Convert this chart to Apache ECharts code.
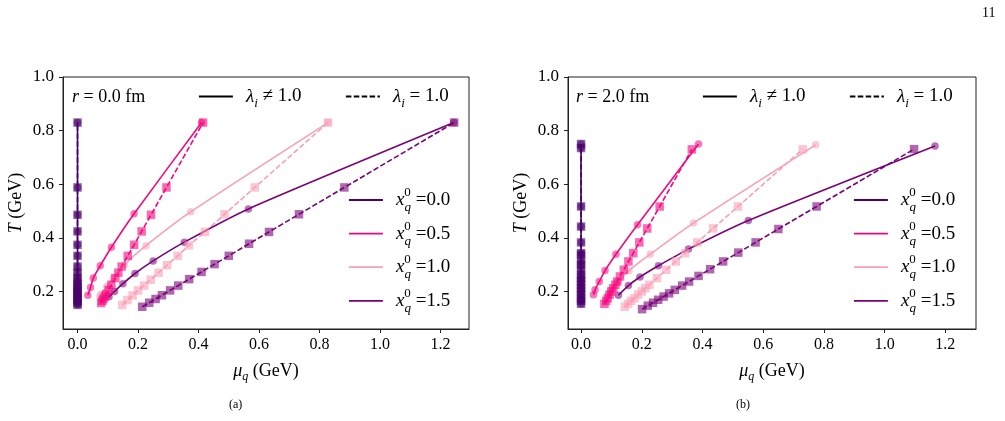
<!DOCTYPE html>
<html>
<head>
<meta charset="utf-8">
<script src="https://cdn.jsdelivr.net/npm/echarts@6/dist/echarts.min.js"></script>
<style>html,body{margin:0;padding:0;background:#fff}#chart{width:1005px;height:421px}</style>
</head>
<body>
<div id="chart"></div>
<script>
var chartDom = document.getElementById('chart');
var myChart = echarts.init(chartDom);
var option;

// ---- panel (a): r = 0.0 fm ----
// x0 = 0.0 (column at mu = 0)
var a_T00 = [0.15, 0.157, 0.165, 0.172, 0.181, 0.19, 0.196, 0.206, 0.215, 0.225, 0.237, 0.25, 0.27, 0.293, 0.333, 0.374, 0.424, 0.486, 0.588, 0.83];
var a_mu00 = [0, 0, 0, 0, 0, 0, 0, 0, 0, 0, 0, 0, 0, 0, 0, 0, 0, 0, 0, 0];
// lambda != 1 (solid, circles)
var a_T05s = [0.186, 0.215, 0.25, 0.296, 0.365, 0.49, 0.83];
var a_mu05s = [0.034, 0.043, 0.052, 0.075, 0.112, 0.187, 0.41];
var a_T10s = [0.181, 0.19, 0.219, 0.25, 0.30, 0.371, 0.497, 0.83];
var a_mu10s = [0.074, 0.077, 0.097, 0.118, 0.155, 0.226, 0.374, 0.828];
var a_T15s = [0.18, 0.2, 0.229, 0.267, 0.314, 0.384, 0.508, 0.83];
var a_mu15s = [0.104, 0.122, 0.15, 0.19, 0.25, 0.353, 0.565, 1.244];
// lambda = 1 (dashed, squares)
var a_T05d = [0.157, 0.165, 0.172, 0.181, 0.19, 0.206, 0.225, 0.25, 0.27, 0.293, 0.333, 0.374, 0.424, 0.486, 0.588, 0.83];
var a_mu05d = [0.078, 0.082, 0.086, 0.09, 0.095, 0.103, 0.112, 0.125, 0.135, 0.146, 0.166, 0.187, 0.212, 0.243, 0.294, 0.415];
var a_T10d = [0.15, 0.168, 0.185, 0.204, 0.222, 0.244, 0.27, 0.298, 0.333, 0.372, 0.422, 0.488, 0.588, 0.83];
var a_mu10d = [0.148, 0.165, 0.182, 0.2, 0.22, 0.242, 0.268, 0.296, 0.331, 0.368, 0.421, 0.486, 0.586, 0.828];
var a_T15d = [0.143, 0.158, 0.172, 0.186, 0.204, 0.222, 0.246, 0.273, 0.302, 0.333, 0.378, 0.422, 0.488, 0.588, 0.83];
var a_mu15d = [0.214, 0.237, 0.258, 0.279, 0.306, 0.333, 0.369, 0.41, 0.453, 0.5, 0.567, 0.633, 0.732, 0.882, 1.245];

// ---- panel (b): r = 2.0 fm ----
var b_T00 = [0.154, 0.165, 0.175, 0.188, 0.2, 0.212, 0.225, 0.237, 0.25, 0.262, 0.281, 0.3, 0.312, 0.337, 0.343, 0.383, 0.442, 0.517, 0.735, 0.75];
var b_mu00 = [0, 0, 0, 0, 0, 0, 0, 0, 0, 0, 0, 0, 0, 0, 0, 0, 0, 0, 0, 0];
var b_T05s = [0.188, 0.206, 0.237, 0.278, 0.339, 0.449, 0.75];
var b_mu05s = [0.041, 0.046, 0.06, 0.079, 0.115, 0.186, 0.387];
var b_T10s = [0.19, 0.206, 0.237, 0.278, 0.339, 0.455, 0.747];
var b_mu10s = [0.09, 0.098, 0.122, 0.158, 0.228, 0.37, 0.773];
var b_T15s = [0.186, 0.222, 0.254, 0.296, 0.358, 0.465, 0.743];
var b_mu15s = [0.123, 0.156, 0.194, 0.255, 0.354, 0.551, 1.166];
var b_T05d = [0.154, 0.165, 0.175, 0.188, 0.2, 0.212, 0.225, 0.237, 0.256, 0.281, 0.312, 0.343, 0.383, 0.435, 0.517, 0.73];
var b_mu05d = [0.077, 0.083, 0.088, 0.094, 0.1, 0.106, 0.113, 0.119, 0.128, 0.141, 0.156, 0.172, 0.192, 0.218, 0.259, 0.365];
var b_T10d = [0.143, 0.154, 0.165, 0.175, 0.188, 0.2, 0.212, 0.225, 0.25, 0.281, 0.312, 0.343, 0.383, 0.435, 0.517, 0.73];
var b_mu10d = [0.144, 0.155, 0.165, 0.176, 0.188, 0.2, 0.212, 0.225, 0.25, 0.281, 0.312, 0.343, 0.383, 0.435, 0.517, 0.73];
var b_T15d = [0.134, 0.147, 0.158, 0.169, 0.181, 0.193, 0.206, 0.222, 0.237, 0.258, 0.283, 0.312, 0.345, 0.383, 0.433, 0.517, 0.731];
var b_mu15d = [0.201, 0.22, 0.237, 0.254, 0.272, 0.29, 0.309, 0.333, 0.356, 0.387, 0.425, 0.468, 0.518, 0.575, 0.65, 0.776, 1.097];

var x0Labels = ['0.0', '0.5', '1.0', '1.5'];
var radii = ['0.0', '2.0'];
var xTicks = [0, 0.2, 0.4, 0.6, 0.8, 1.0, 1.2];
var yTicks = [0.2, 0.4, 0.6, 0.8, 1.0];

var colors = ['#49006a', '#f7067f', '#fa9fb5', '#7a0177'];
var legendNames = ['x00', 'x05', 'x10', 'x15'];
var FONT = '"Liberation Serif", "DejaVu Serif", serif';

var panels = [
  {
    solid: [[a_mu00, a_T00], [a_mu05s, a_T05s], [a_mu10s, a_T10s], [a_mu15s, a_T15s]],
    dashed: [[a_mu00, a_T00], [a_mu05d, a_T05d], [a_mu10d, a_T10d], [a_mu15d, a_T15d]]
  },
  {
    solid: [[b_mu00, b_T00], [b_mu05s, b_T05s], [b_mu10s, b_T10s], [b_mu15s, b_T15s]],
    dashed: [[b_mu00, b_T00], [b_mu05d, b_T05d], [b_mu10d, b_T10d], [b_mu15d, b_T15d]]
  }
];

function pairs(mu, T) {
  return mu.map(function (m, i) { return [m, T[i]]; });
}

var series = [];
panels.forEach(function (p, pi) {
  for (var k = 0; k < 4; k++) {
    var solid = pairs(p.solid[k][0], p.solid[k][1]);
    var dash = pairs(p.dashed[k][0], p.dashed[k][1]);
    series.push({
      name: legendNames[k], type: 'line', xAxisIndex: pi, yAxisIndex: pi,
      data: solid, symbol: 'none', smooth: k === 0 ? false : 0.2,
      lineStyle: {color: colors[k], width: 1.6},
      itemStyle: {color: colors[k]}, z: 3, silent: true
    });
    series.push({
      type: 'scatter', xAxisIndex: pi, yAxisIndex: pi, data: solid,
      symbol: 'circle', symbolSize: 7.5,
      itemStyle: {color: colors[k], opacity: 0.55}, z: 2, silent: true
    });
    series.push({
      type: 'line', xAxisIndex: pi, yAxisIndex: pi, data: dash,
      symbol: 'rect', symbolSize: 8.5, showAllSymbol: true,
      itemStyle: {color: colors[k], opacity: 0.6},
      lineStyle: {color: colors[k], width: 1.6, type: [5.5, 2.4]}, z: 3, silent: true
    });
  }
});
series.push({name: 'solid', type: 'line', data: [], symbol: 'none',
  lineStyle: {color: '#000', width: 1.6}, itemStyle: {color: '#000'}});
series.push({name: 'dashed', type: 'line', data: [], symbol: 'none',
  lineStyle: {color: '#000', width: 1.6, type: [5.5, 2.4]}, itemStyle: {color: '#000'}});

var rich = {
  g: {width: 8},
  l: {fontFamily: FONT, fontStyle: 'italic', fontSize: 19, lineHeight: 28},
  x: {fontFamily: FONT, fontStyle: 'italic', fontSize: 19, lineHeight: 28},
  s: {fontFamily: FONT, fontStyle: 'italic', fontSize: 13, lineHeight: 14, verticalAlign: 'bottom'},
  p: {fontFamily: FONT, fontSize: 13, lineHeight: 14, verticalAlign: 'top', width: 0.1},
  q: {fontFamily: FONT, fontStyle: 'italic', fontSize: 13, lineHeight: 14, verticalAlign: 'bottom'},
  t: {fontFamily: FONT, fontSize: 19, lineHeight: 28}
};

function legendText(name) {
  if (name === 'solid') return '{g|}{l|λ}{s|i}{t| ≠ 1.0}';
  if (name === 'dashed') return '{g|}{l|λ}{s|i}{t| = 1.0}';
  var i = legendNames.indexOf(name);
  return '{g|}{x|x}{p|0}{q|q}{t| =' + x0Labels[i] + '}';
}

function legend(names, left, top, orient) {
  return {
    data: names, left: left, top: top, orient: orient || 'horizontal',
    padding: 0, itemGap: 5.6, itemWidth: 34, itemHeight: 14,
    selectedMode: false, formatter: legendText,
    itemStyle: {opacity: 0},
    lineStyle: {width: 1.8},
    textStyle: {fontFamily: FONT, fontSize: 19, color: '#000', rich: rich}
  };
}

var axisColor = '#222';
function xAxis(gi, min, max) {
  return {
    gridIndex: gi, type: 'value', min: min, max: max,
    axisLine: {show: true, onZero: false, lineStyle: {color: axisColor, width: 1}},
    axisTick: {show: true, inside: false, length: 4, customValues: xTicks, lineStyle: {color: axisColor}},
    axisLabel: {customValues: xTicks, formatter: function (v) { return v.toFixed(1); },
      fontFamily: FONT, fontSize: 16, color: '#000', margin: 8},
    splitLine: {show: false},
    name: '{m|μ}{s|q}{t| (GeV)}', nameLocation: 'middle', nameGap: 30,
    nameTextStyle: {fontFamily: FONT, fontSize: 18, color: '#000', rich: {
      m: {fontFamily: FONT, fontStyle: 'italic', fontSize: 18, lineHeight: 24},
      s: {fontFamily: FONT, fontStyle: 'italic', fontSize: 12, lineHeight: 12, verticalAlign: 'bottom'},
      t: {fontFamily: FONT, fontSize: 18, lineHeight: 24}
    }}
  };
}
function yAxis(gi) {
  return {
    gridIndex: gi, type: 'value', min: 0.06, max: 1.0,
    axisLine: {show: true, onZero: false, lineStyle: {color: axisColor, width: 1}},
    axisTick: {show: true, inside: false, length: 4, customValues: yTicks, lineStyle: {color: axisColor}},
    axisLabel: {customValues: yTicks, formatter: function (v) { return v.toFixed(1); },
      fontFamily: FONT, fontSize: 17, color: '#000', margin: 9},
    splitLine: {show: false},
    name: '{i|T} (GeV)', nameLocation: 'middle', nameGap: 38,
    nameTextStyle: {fontFamily: FONT, fontSize: 18, color: '#000', rich: {
      i: {fontFamily: FONT, fontStyle: 'italic', fontSize: 18}
    }}
  };
}

function title(text, left, top, size) {
  return {text: text, left: left, top: top, padding: 0,
    textStyle: {fontFamily: FONT, fontSize: size, fontWeight: 'normal', color: '#000',
      rich: {i: {fontFamily: FONT, fontStyle: 'italic', fontSize: size}}}};
}

option = {
  backgroundColor: '#fff',
  animation: false,
  title: [
    title('{i|r} = ' + radii[0] + ' fm', 72, 88, 18),
    title('{i|r} = ' + radii[1] + ' fm', 576, 88, 18),
    title('(a)', 229, 399, 12),
    title('(b)', 736, 399, 12),
    title('11', 982, 6, 14)
  ],
  grid: [
    {left: 63, top: 77, width: 406, height: 252, show: true, borderColor: axisColor, borderWidth: 1, outerBoundsMode: 'none'},
    {left: 568, top: 77, width: 408, height: 252, show: true, borderColor: axisColor, borderWidth: 1, outerBoundsMode: 'none'}
  ],
  xAxis: [xAxis(0, -0.048, 1.294), xAxis(1, -0.043, 1.301)],
  yAxis: [yAxis(0), yAxis(1)],
  legend: [
    legend(['solid'], 198, 87),
    legend(['dashed'], 345, 87),
    legend(legendNames, 348, 186, 'vertical'),
    legend(['solid'], 702, 87),
    legend(['dashed'], 849, 87),
    legend(legendNames, 853, 186, 'vertical')
  ],
  series: series
};

option && myChart.setOption(option);
</script>
</body>
</html>
